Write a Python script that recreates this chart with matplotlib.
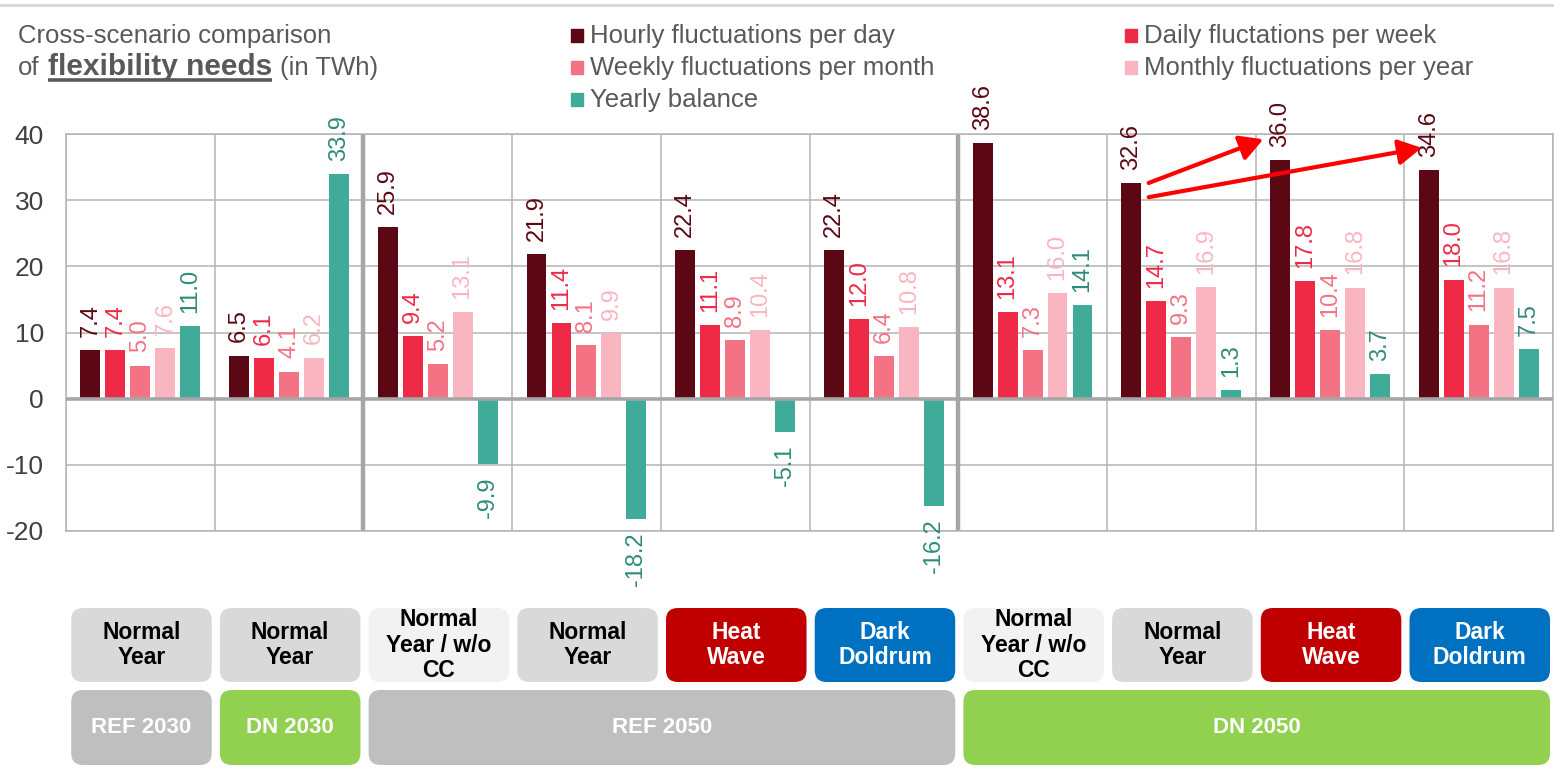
import matplotlib
matplotlib.use("Agg")
import matplotlib.pyplot as plt
from matplotlib.patches import FancyBboxPatch, Rectangle, FancyArrowPatch
from matplotlib.lines import Line2D
import numpy as np

plt.rcParams['font.family'] = ['Liberation Sans', 'DejaVu Sans']
plt.rcParams['axes.unicode_minus'] = False

# ---- data -------------------------------------------------------------
series_names = ["Hourly fluctuations per day", "Daily fluctations per week",
                "Weekly fluctuations per month", "Monthly fluctuations per year",
                "Yearly balance"]
hourly = [7.4, 6.5, 25.9, 21.9, 22.4, 22.4, 38.6, 32.6, 36.0, 34.6]
daily = [7.4, 6.1, 9.4, 11.4, 11.1, 12.0, 13.1, 14.7, 17.8, 18.0]
weekly = [5.0, 4.1, 5.2, 8.1, 8.9, 6.4, 7.3, 9.3, 10.4, 11.2]
monthly = [7.6, 6.2, 13.1, 9.9, 10.4, 10.8, 16.0, 16.9, 16.8, 16.8]
yearly = [11.0, 33.9, -9.9, -18.2, -5.1, -16.2, 14.1, 1.3, 3.7, 7.5]

weather = ["Normal\nYear", "Normal\nYear", "Normal\nYear / w/o\nCC", "Normal\nYear",
           "Heat\nWave", "Dark\nDoldrum", "Normal\nYear / w/o\nCC", "Normal\nYear",
           "Heat\nWave", "Dark\nDoldrum"]
scenarios = ["REF 2030", "DN 2030", "REF 2050", "DN 2050"]
scenario_spans = [(0, 1), (1, 2), (2, 6), (6, 10)]
y_ticks = [-20, -10, 0, 10, 20, 30, 40]

# ---- styling ----------------------------------------------------------
bar_colors = ["#5C0714", "#EE2A47", "#F37385", "#F9B6C1", "#41AB9A"]
label_colors = ["#5C0714", "#EE2A47", "#F37385", "#F9B6C1", "#2E8B7A"]
weather_colors = {"Normal\nYear": ("#D9D9D9", "black"),
                  "Normal\nYear / w/o\nCC": ("#F2F2F2", "black"),
                  "Heat\nWave": ("#C00000", "white"),
                  "Dark\nDoldrum": ("#0070C0", "white")}
scenario_colors = {"REF": "#BFBFBF", "DN": "#92D050"}
text_grey = "#595959"
grid_grey = "#B4B4B4"

W, H = 1554, 777
fig = plt.figure(figsize=(W / 100, H / 100), dpi=100)


def fx(px):
    return px / W


def fy(py):
    return 1 - py / H


# top rule
fig.add_artist(Line2D([0, 1], [fy(5), fy(5)], color="#DADADA", lw=2.2,
                      transform=fig.transFigure))

# ---- main chart -------------------------------------------------------
ax = fig.add_axes([fx(66), fy(531), fx(1553 - 66), (531 - 134) / H])
n_groups = len(hourly)
series = [hourly, daily, weekly, monthly, yearly]
centers = np.arange(n_groups) + 0.5
pitch, width = 0.168, 0.134
offsets = (np.arange(len(series)) - 2) * pitch

for s, vals in enumerate(series):
    xs = centers + offsets[s]
    ax.bar(xs, vals, width=width, color=bar_colors[s], zorder=3)
    for x, v in zip(xs, vals):
        ax.annotate(f"{v:.1f}", (x, v), xytext=(0, 9.5 if v >= 0 else -9.5),
                    textcoords="offset points", rotation=90, ha="center",
                    va="bottom" if v >= 0 else "top", fontsize=17,
                    color=label_colors[s], zorder=5, annotation_clip=False)

ax.set_xlim(0, n_groups)
ax.set_ylim(-20, 40)
ax.set_xticks(np.arange(n_groups + 1))
ax.set_yticks(y_ticks)
ax.tick_params(axis="x", length=0, labelbottom=False)
ax.tick_params(axis="y", length=0, pad=16, labelsize=19, labelcolor="#404040")
ax.grid(True, color=grid_grey, lw=1.1, zorder=0)
ax.set_axisbelow(True)
for sp in ax.spines.values():
    sp.set_color(grid_grey)
    sp.set_linewidth(1.1)
ax.axhline(0, color="#A6A6A6", lw=2.6, zorder=4)
for start, end in scenario_spans:
    if start in (2, 6):
        ax.axvline(start, color="#A6A6A6", lw=3.2, zorder=2)

# arrows from DN 2050 normal year to heat wave / dark doldrum peaks
src = 7
bar_right = centers[src] + offsets[0] + width / 2
for tgt, dy_start, dy_end, dx_end in [(8, 0.0, 3.2, -0.045), (9, -2.15, 3.3, 0.02)]:
    tgt_left = centers[tgt] + offsets[0] - width / 2
    arr = FancyArrowPatch((bar_right + 0.05, hourly[src] + dy_start),
                          (tgt_left + dx_end, hourly[tgt] + dy_end),
                          arrowstyle="-|>,head_length=1.0,head_width=0.55",
                          mutation_scale=14, color="#FF0000", lw=3,
                          shrinkA=0, shrinkB=0, zorder=6)
    ax.add_patch(arr)

# ---- category boxes below chart --------------------------------------
bax = fig.add_axes([fx(66), fy(770), fx(1553 - 66), 170 / H])
px_per_unit = (1553 - 66) / n_groups
bax.set_xlim(0, n_groups)
bax.set_ylim(0, 170 / px_per_unit)
bax.axis("off")


def u(px):
    return px / px_per_unit


rnd = u(12)
inset_l, inset_r = 0.035, 0.02
r1_bot, r1_top = u(770 - 682), u(770 - 608)
r2_bot, r2_top = u(770 - 765), u(770 - 690)

for i, w in enumerate(weather):
    fc, tc = weather_colors[w]
    bax.add_patch(FancyBboxPatch((i + inset_l, r1_bot), 1 - inset_l - inset_r,
                                 r1_top - r1_bot,
                                 boxstyle=f"round,pad=0,rounding_size={rnd}",
                                 fc=fc, ec="none"))
    bax.text(i + 0.5 + (inset_l - inset_r) / 2, (r1_bot + r1_top) / 2, w,
             ha="center", va="center", fontsize=16.5, fontweight="bold",
             color=tc, linespacing=1.12)

for name, (start, end) in zip(scenarios, scenario_spans):
    fc = scenario_colors[name.split()[0]]
    bax.add_patch(FancyBboxPatch((start + inset_l, r2_bot), end - start - inset_l - inset_r,
                                 r2_top - r2_bot,
                                 boxstyle=f"round,pad=0,rounding_size={rnd}",
                                 fc=fc, ec="none"))
    bax.text((start + end) / 2 + (inset_l - inset_r) / 2, (r2_bot + r2_top) / 2, name,
             ha="center", va="center", fontsize=16, fontweight="bold",
             color="white")

# ---- title ------------------------------------------------------------
fig.text(fx(18), fy(43), "Cross-scenario comparison", fontsize=18.5,
         color=text_grey, va="baseline")
renderer = fig.canvas.get_renderer()
t_of = fig.text(fx(18), fy(75), "of", fontsize=18.5, color=text_grey, va="baseline")
bb = t_of.get_window_extent(renderer)
t_bold = fig.text(fx(bb.x1 + 8), fy(75), "flexibility needs", fontsize=21.5,
                  fontweight="bold", color=text_grey, va="baseline")
bb2 = t_bold.get_window_extent(renderer)
fig.add_artist(Line2D([fx(bb2.x0), fx(bb2.x1)], [fy(80), fy(80)], color=text_grey,
                      lw=2.6, solid_capstyle="butt", transform=fig.transFigure))
fig.text(fx(bb2.x1 + 8), fy(75), "(in TWh)", fontsize=18.5, color=text_grey,
         va="baseline")

# ---- legend -----------------------------------------------------------
legend_slots = [(571, 43), (1125, 43), (571, 75), (1125, 75), (571, 107)]
for name, col, (lx, ly) in zip(series_names, bar_colors, legend_slots):
    fig.add_artist(Rectangle((fx(lx), fy(ly - 1)), fx(12), 13 / H, color=col,
                             transform=fig.transFigure))
    fig.text(fx(lx + 19), fy(ly), name, fontsize=18.5, color=text_grey,
             va="baseline")

fig.savefig("out.png", dpi=100)
